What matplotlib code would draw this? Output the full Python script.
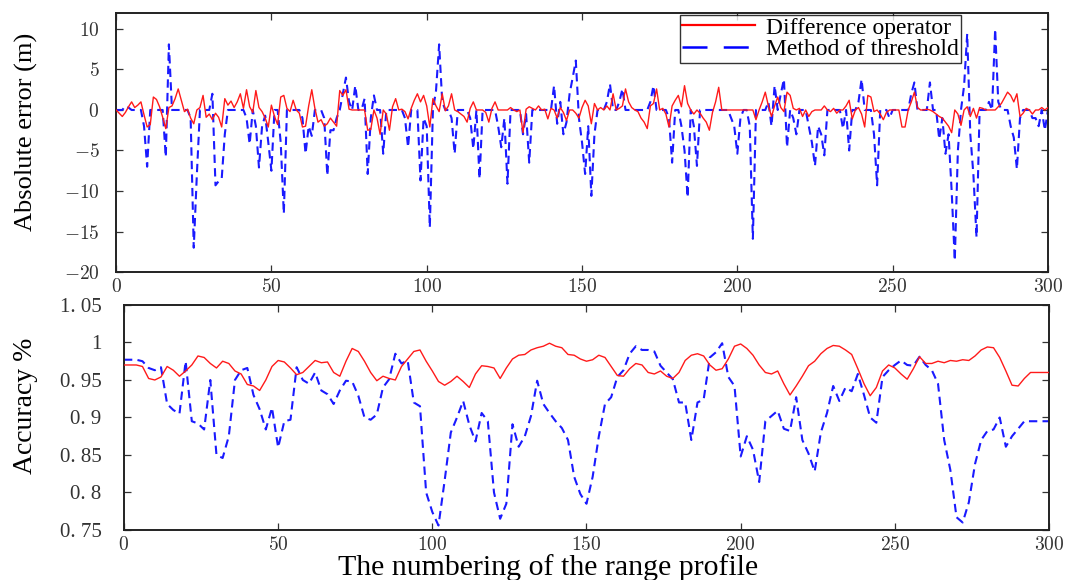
import numpy as np
import matplotlib
matplotlib.use("Agg")
import matplotlib.pyplot as plt
from matplotlib.lines import Line2D

plt.rcParams['mathtext.fontset'] = 'cm'
plt.rcParams['font.family'] = ['Liberation Serif', 'DejaVu Serif']

# ---- top panel: absolute error per range profile (x = 0..300) ----
err_diff = [
    0.0, -0.4, -0.8, -0.3, 0.4, 1.0, 0.3, 0.6, 1.0, -0.6,
    -2.1, -1.8, 1.6, 1.3, 0.4, -0.9, -2.3, 0.3, 0.5, 1.4,
    2.6, 1.2, -0.2, 0.1, -1.0, -1.7, 0.0, 0.3, 1.8, -0.9,
    -0.5, -1.2, -0.4, -0.9, -2.1, 1.4, 0.6, 1.1, 0.3, 1.0,
    2.0, 0.2, 2.5, 0.4, -0.3, 2.4, 0.3, -0.2, -1.0, -2.1,
    0.6, -0.8, -1.8, 1.6, 1.8, 0.2, -0.2, 1.2, 0.0, -0.4,
    -2.1, -2.0, 0.5, 2.5, 0.2, -1.5, -1.2, -2.0, -1.7, -1.0,
    -1.5, -2.0, 2.4, 1.8, 2.5, 0.1, 0.0, 0.0, 0.0, 0.0,
    0.0, -2.5, -2.4, 0.0, -1.0, -3.0, 0.0, -0.5, -2.5, 0.4,
    1.4, 0.0, 0.1, -0.2, -1.1, 0.2, 1.2, 2.0, 1.0, 1.8,
    0.5, -2.1, 1.4, 0.5, -0.2, 2.0, -0.1, 0.5, 2.0, 0.0,
    -0.2, -0.5, -0.8, -1.5, 0.2, 1.0, 0.0, 0.0, 0.0, -0.3,
    -1.5, 0.2, 1.0, 0.0, 0.0, 0.0, 0.0, 0.3, 0.0, -0.2,
    0.0, -2.8, 0.1, 0.4, 0.2, 0.0, 0.5, 0.0, 0.1, -1.1,
    0.2, 0.0, -1.0, 0.3, -0.3, -1.3, 0.0, 0.0, -0.4, -1.0,
    0.3, 1.2, 0.5, -1.7, 0.8, 0.0, 0.3, 0.0, 0.5, 0.0,
    2.0, 0.0, 0.2, 0.5, 2.6, 1.0, 0.3, 0.0, -0.2, -1.0,
    -1.5, -2.3, 0.5, 0.8, 2.6, 0.0, 0.2, -0.5, -2.1, 0.5,
    1.2, 1.8, 0.4, 3.0, 0.8, 0.0, -0.5, 0.0, -0.4, -1.0,
    -1.5, -2.5, -0.3, 1.0, 2.8, 0.0, 0.0, 0.0, 0.0, 0.0,
    0.0, 0.0, 0.0, 0.0, 0.0, 0.0, -1.2, 0.0, 1.0, 2.2,
    0.5, -0.8, 0.5, 1.6, 0.3, -0.2, 2.2, 1.8, 0.2, 0.0,
    0.2, -0.8, 0.0, -0.8, -0.2, 0.0, 0.0, 0.0, 0.5, 0.0,
    -0.2, 0.2, -0.4, 0.0, 0.0, 0.5, 1.2, -1.1, 0.0, 0.3,
    -0.5, -2.1, 1.8, 1.6, -0.2, 0.0, -0.5, -1.2, -0.3, 0.0,
    0.0, 0.0, 0.0, -2.1, -2.1, 0.0, 1.0, 2.2, 0.3, 0.0,
    0.0, 0.1, 0.0, -0.2, -0.5, -0.8, -1.0, -1.5, -2.0, -2.8,
    0.0, -0.5, -1.9, 0.0, 0.4, -0.8, 0.2, -1.0, 0.3, 0.2,
    0.0, 0.0, 0.0, 0.0, 0.4, 0.8, 1.5, 2.2, 1.8, 1.0,
    2.0, -0.8, -0.4, 0.2, 0.0, -0.5, 0.0, 0.0, 0.3, 0.0,
    0.3,
]

err_thresh = [
    0, 0, 0, 0.5, 0.3, 0, 0, 0, 0, -2,
    -7, 0, 0, 0, 0, 0, -5.8, 8.1, 0, 0,
    0, 0, 0, 0, -1, -17, -8, 0, 0, 0,
    0, 2, -9.3, -8.8, -8.5, -3, 0, 0, 0, 0,
    0, 0, -1, -4.2, 0, -2, -7.1, -2, -0.7, -4,
    -7.5, 0, 0, -4, -12.8, 0, 0, 0, 0, 0,
    -1, -5.4, -2, -3.2, 0, 0, 0, -1, -8.1, -2.5,
    -2.5, -1, 0, 2, 4, 1, 0, 3, 0, 0,
    1.4, -7.9, -1, 1.8, 0, 0, -5.4, 0, 0, 0,
    0, 0, 0, -1, -4.6, 0, 0, 0, -8.7, -1,
    -2, -14.5, 0, 2.4, 8.1, 1, 0, 0, -1, -5.4,
    0, 0, 0, 0, -1, -4.8, 0, -8.5, 0, 0,
    0, 0, 0, -2, -4.6, -1, -9.1, 0, 0, 0,
    0, -3, -0.5, -6.5, 0, 0, 0, 0, 0, 0,
    0, 3, -1.7, 1, -3, -1.5, 2, 4, 6.1, -1,
    -4, -7.9, -2, -10.6, -3, 0, 0, 0, 1, 3.2,
    0, 0, 1, 2.6, 0, 0, 0, 0, 0, 0,
    0, 0, 1, 3, 0, 0, 0, 0, -1, -6.5,
    0, 0, -2, -5, -10.8, 0, -2, -6.9, 0, 0,
    0, 0, 0, 0, 0, 0, 0, 0, -1, -2,
    -5.4, -1, 0, 0, -2, -15.9, 0, 0, 0, 0,
    1, -2, 3, 0, 2, 3.8, -4.6, 0, -1, -3,
    0, 0, 0, -2, -4, -6.9, -2, -3, -5.6, 0,
    0, 0, 0, 0, -2.3, 0, -5, 0, 0, 1,
    3.8, 0, 0, 0, -3, -9.3, 0, 0, 0, -1,
    0, 0, 0, 0, 0, 0, 2, 3.4, 0, 0,
    0, 0, 3.4, 0, 0, -3.6, -1, -5.4, -3, -10,
    -18.6, -5, 0, 3, 9.4, -3, -8, -15.7, 0, 0,
    0, 1, 0, 10, 1, 0, 0, 0, -2, -3.4,
    -7.3, -1, 0, 0, 0, -1, -1, -2, 0, -2.5,
    0,
]

# ---- bottom panel: accuracy, read every 2 profiles (x = 0, 2, ..., 300) ----
acc_diff = [
    .970, .970, .970, .968, .952, .950, .954, .968, .963, .955,
    .962, .970, .982, .980, .972, .966, .975, .972, .962, .958,
    .944, .942, .936, .950, .968, .976, .974, .966, .957, .960,
    .968, .976, .973, .974, .960, .955, .975, .992, .988, .975,
    .960, .949, .955, .952, .950, .968, .978, .988, .990, .975,
    .962, .948, .943, .948, .955, .948, .940, .958, .969, .968,
    .966, .952, .966, .978, .983, .984, .990, .993, .995, .999,
    .995, .993, .984, .983, .978, .975, .977, .983, .980, .968,
    .956, .955, .965, .972, .970, .960, .958, .962, .955, .952,
    .960, .976, .983, .985, .982, .970, .963, .965, .978, .995,
    .998, .992, .983, .970, .960, .958, .962, .945, .930, .942,
    .955, .969, .975, .985, .992, .996, .995, .990, .984, .965,
    .945, .929, .940, .962, .970, .966, .958, .951, .965, .981,
    .972, .972, .975, .973, .976, .975, .977, .976, .982, .990,
    .994, .993, .980, .962, .943, .942, .952, .960, .960, .960,
    .960,
]

acc_thresh = [
    .977, .977, .977, .975, .966, .963, .967, .918, .910, .905,
    .975, .895, .892, .884, .950, .850, .846, .875, .950, .963,
    .966, .930, .911, .884, .913, .860, .895, .897, .967, .950,
    .945, .960, .936, .931, .918, .936, .949, .948, .929, .900,
    .897, .904, .940, .951, .985, .972, .976, .920, .915, .800,
    .774, .756, .816, .880, .900, .922, .890, .868, .906, .895,
    .800, .765, .785, .891, .861, .875, .902, .949, .918, .906,
    .895, .886, .870, .821, .798, .785, .821, .875, .918, .927,
    .954, .963, .985, .995, .990, .990, .988, .969, .960, .951,
    .920, .920, .870, .920, .924, .980, .987, .999, .954, .942,
    .848, .875, .857, .814, .895, .902, .909, .885, .882, .927,
    .870, .852, .828, .880, .906, .942, .922, .940, .935, .958,
    .930, .900, .893, .954, .963, .970, .976, .970, .969, .981,
    .970, .963, .945, .870, .830, .767, .760, .787, .838, .870,
    .882, .884, .900, .861, .875, .885, .895, .895, .895, .895,
    .895,
]

x_top = np.arange(len(err_diff))
x_bot = np.arange(0, 2 * len(acc_diff), 2)

xticks = [0, 50, 100, 150, 200, 250, 300]
top_yticks = [10, 5, 0, -5, -10, -15, -20]
bot_yticks = [0.75, 0.8, 0.85, 0.9, 0.95, 1.0, 1.05]
bot_ylabels = ['0. 75', '0. 8', '0. 85', '0. 9', '0. 95', '1', '1. 05']

fig = plt.figure(figsize=(10.65, 5.8), dpi=100)
ax1 = fig.add_axes([0.109, 0.531, 0.875, 0.447])
ax2 = fig.add_axes([0.1164, 0.0862, 0.8686, 0.388])

red = '#ff1a1a'
blue = '#1a1aff'

ax1.plot(x_top, err_diff, color=red, lw=1.0, zorder=3)
ax1.plot(x_top, err_thresh, color=blue, lw=1.5, dashes=(4, 2.5), zorder=2)
ax1.set_xlim(0, 300)
ax1.set_ylim(-20, 12)
ax1.set_xticks(xticks)
ax1.set_xticklabels([f'${v}$' for v in xticks])
ax1.set_yticks(top_yticks)
ax1.set_yticklabels([f'${v}$' for v in top_yticks])
ax1.set_ylabel('Absolute error (m)', fontsize=19)
ax1.yaxis.set_label_coords(-0.0837, 0.54)

handles = [Line2D([], [], color='red', lw=1.6),
           Line2D([], [], color='blue', lw=1.8, dashes=(10, 6.5))]
leg = ax1.legend(handles, ['Difference operator', 'Method of threshold'],
                 loc='upper right', bbox_to_anchor=(0.9067, 0.992),
                 fontsize=17, frameon=True, fancybox=False,
                 handlelength=3.1, borderpad=0.1, labelspacing=0.0,
                 handletextpad=0.45, borderaxespad=0.0)
leg.get_frame().set_edgecolor('black')
leg.get_frame().set_linewidth(1.0)

ax2.plot(x_bot, acc_diff, color=red, lw=1.0, zorder=3)
ax2.plot(x_bot, acc_thresh, color=blue, lw=1.5, dashes=(4, 2.5), zorder=2)
ax2.set_xlim(0, 300)
ax2.set_ylim(0.75, 1.05)
ax2.set_xticks(xticks)
ax2.set_xticklabels([f'${v}$' for v in xticks])
ax2.set_yticks(bot_yticks)
ax2.set_yticklabels(bot_ylabels)
ax2.set_ylabel('Accuracy %', fontsize=20)
ax2.yaxis.set_label_coords(-0.093, 0.55)
ax2.set_xlabel('The numbering of the range profile', fontsize=21.5)
ax2.xaxis.set_label_coords(0.458, -0.105)

for ax in (ax1, ax2):
    ax.tick_params(direction='in', length=5, width=0.9, top=True, right=True,
                   labelsize=14, colors='#333333')
    ax.tick_params(axis='x', pad=4)
    for s in ax.spines.values():
        s.set_linewidth(1.4)
        s.set_color('#222222')
ax1.tick_params(axis='y', pad=12)
ax2.tick_params(axis='y', pad=16, labelsize=15)

fig.savefig('out.png', dpi=100)
